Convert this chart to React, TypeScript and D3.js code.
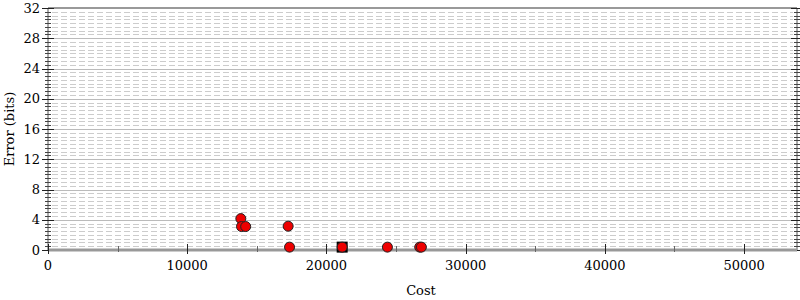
import React from "react";
import * as d3 from "d3";

const costs = [13850, 13900, 14200, 17250, 17350, 21130, 24380, 26700, 26820];
const errors = [4.15, 3.1, 3.1, 3.15, 0.38, 0.38, 0.38, 0.38, 0.38];
const bestCost = [21130];
const bestError = [0.38];
const xTicks = [0, 10000, 20000, 30000, 40000, 50000];
const xMinorTicks = [5000, 15000, 25000, 35000, 45000];
const yTicks = [0, 4, 8, 12, 16, 20, 24, 28, 32];

const W = 800, H = 300;
const M = { left: 48, right: 797, top: 8, bottom: 250 };

export default function App() {
  const x = d3.scaleLinear().domain([0, 53800]).range([M.left, M.right]);
  const y = d3.scaleLinear().domain([0, 32]).range([M.bottom, M.top]);
  const minor = d3.range(0, 32.01, 0.5).filter((v) => v % 4 !== 0);
  const font = "'DejaVu Serif', serif";

  return (
    <div style={{ position: "fixed", left: 0, top: 0 }}>
      <svg width={W} height={H} style={{ display: "block", background: "#fff" }}>
        {/* minor dashed gridlines */}
        {minor.map((v) => (
          <line key={"mg" + v} x1={M.left + 4} x2={M.right - 4} y1={Math.round(y(v)) + 0.5} y2={Math.round(y(v)) + 0.5}
            stroke="#cccccc" strokeDasharray="6,3" strokeWidth={1} />
        ))}
        {/* major gridlines */}
        {yTicks.filter((v) => v !== 0 && v !== 32).map((v) => (
          <line key={"Mg" + v} x1={M.left} x2={M.right} y1={Math.round(y(v)) + 0.5} y2={Math.round(y(v)) + 0.5}
            stroke="#bbbbbb" strokeWidth={1} />
        ))}
        {/* top border */}
        <line x1={M.left} x2={M.right} y1={y(32)} y2={y(32)} stroke="#999" strokeWidth={2} />
        {/* left and right axes */}
        {[M.left, M.right].map((xx) => (
          <g key={"ax" + xx}>
            <line x1={xx} x2={xx} y1={M.top} y2={M.bottom} stroke="#555" strokeWidth={1} />
            {minor.map((v) => (
              <line key={"mt" + v} x1={xx - 3} x2={xx + 3} y1={Math.round(y(v)) + 0.5} y2={Math.round(y(v)) + 0.5}
                stroke="#444" strokeWidth={1} />
            ))}
            {yTicks.map((v) => (
              <line key={"Mt" + v} x1={xx - 6} x2={xx + 6} y1={Math.round(y(v)) + 0.5} y2={Math.round(y(v)) + 0.5}
                stroke="#222" strokeWidth={1} />
            ))}
          </g>
        ))}
        {/* bottom axis */}
        <line x1={M.left} x2={M.right} y1={y(0)} y2={y(0)} stroke="#999" strokeWidth={3} />
        {xTicks.map((v) => (
          <line key={"xt" + v} x1={Math.round(x(v)) + 0.5} x2={Math.round(x(v)) + 0.5} y1={M.bottom - 6} y2={M.bottom + 4}
            stroke="#222" strokeWidth={1} />
        ))}
        {xMinorTicks.map((v) => (
          <line key={"xm" + v} x1={Math.round(x(v)) + 0.5} x2={Math.round(x(v)) + 0.5} y1={M.bottom - 4} y2={M.bottom + 2}
            stroke="#666" strokeWidth={1} />
        ))}
        {/* tick labels */}
        {yTicks.map((v) => (
          <text key={"yl" + v} x={40} y={y(v)} dy="0.35em" textAnchor="end" fontFamily={font} fontSize={13} fill="#000">
            {v}
          </text>
        ))}
        {xTicks.map((v) => (
          <text key={"xl" + v} x={x(v)} y={270} textAnchor="middle" fontFamily={font} fontSize={13} fill="#000">
            {v}
          </text>
        ))}
        {/* axis titles */}
        <text x={421} y={295} textAnchor="middle" fontFamily={font} fontSize={13} fill="#000">Cost</text>
        <text transform={`translate(14, ${(M.top + M.bottom) / 2}) rotate(-90)`} textAnchor="middle"
          fontFamily={font} fontSize={13} fill="#000">Error (bits)</text>
        {/* best point marker */}
        {bestCost.map((c, i) => (
          <rect key={"b" + i} x={x(c) - 5.5} y={y(bestError[i]) - 5.5} width={11} height={11} fill="#000" />
        ))}
        {/* points */}
        {costs.map((c, i) => (
          <circle key={"p" + i} cx={x(c)} cy={y(errors[i])} r={5} fill="#ee0000" stroke="#222" strokeWidth={1} />
        ))}
      </svg>
    </div>
  );
}
